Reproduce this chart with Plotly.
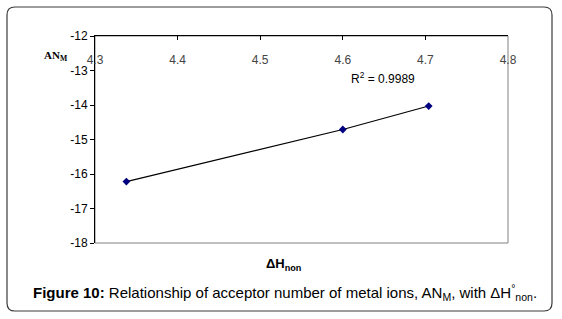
import plotly.graph_objects as go

# Data
dh_non = [4.338, 4.600, 4.704]
an_m = [-16.22, -14.71, -14.03]
x_ticks = [4.3, 4.4, 4.5, 4.6, 4.7, 4.8]
y_ticks = [-12, -13, -14, -15, -16, -17, -18]
r2_text = "R<sup>2</sup> = 0.9989"

W, H = 562, 319
L, R, T, B = 95, 54, 36, 76
pw, ph = W - L - R, H - T - B

def px2paper_x(px):
    return (px - L) / pw

def px2paper_y(py):
    return (H - B - py) / ph

fig = go.Figure()
fig.add_trace(go.Scatter(
    x=dh_non, y=an_m, mode="lines+markers",
    line=dict(color="black", width=1.2),
    marker=dict(symbol="diamond", size=6, color="#000080"),
    showlegend=False, cliponaxis=False,
))

# frame with rounded corners
x0, x1 = px2paper_x(7), px2paper_x(552)
y0, y1 = px2paper_y(311), px2paper_y(7)
rx, ry = 8 / pw, 8 / ph
path = (f"M {x0+rx},{y1} L {x1-rx},{y1} Q {x1},{y1} {x1},{y1-ry} "
        f"L {x1},{y0+ry} Q {x1},{y0} {x1-rx},{y0} L {x0+rx},{y0} "
        f"Q {x0},{y0} {x0},{y0+ry} L {x0},{y1-ry} Q {x0},{y1} {x0+rx},{y1} Z")
shapes = [
    dict(type="path", xref="paper", yref="paper", path=path,
         line=dict(color="#3a3a3a", width=1.2), layer="below"),
    dict(type="rect", xref="paper", yref="paper", x0=0, x1=1, y0=0, y1=1,
         line=dict(color="#808080", width=1), layer="below"),
]

font = "Liberation Sans, Arial, sans-serif"

def ann(text, px, py, size, family=font):
    return dict(text=text, x=px2paper_x(px), y=px2paper_y(py), xref="paper", yref="paper",
                xanchor="center", yanchor="middle", showarrow=False,
                font=dict(size=size, color="black", family=family))

annotations = [
    ann(r2_text, 383, 78, 12),
    ann("<b>AN<sub>M</sub></b>", 56, 56, 11, "Liberation Serif, Times New Roman, serif"),
    ann("<b>ΔH<sub>non</sub></b>", 283, 264, 13),
    ann("<b>Figure 10:</b> Relationship of acceptor number of metal ions, AN<sub>M</sub>, with ΔH<sup>°</sup><sub>non</sub>.",
        285, 292, 15),
]

fig.update_layout(
    width=W, height=H, template="none",
    margin=dict(l=L, r=R, t=T, b=B, autoexpand=False),
    paper_bgcolor="white", plot_bgcolor="white",
    shapes=shapes, annotations=annotations,
    font=dict(family=font, size=12, color="black"),
    xaxis=dict(range=[4.3, 4.8], side="top", tickvals=x_ticks,
               ticktext=[f"{v:.1f}" for v in x_ticks],
               ticks="inside", ticklen=4, tickcolor="black",
               ticklabelposition="inside", ticklabeloverflow="allow",
               ticklabelstandoff=15,
               showline=True, linecolor="black", linewidth=1,
               showgrid=False, zeroline=False, automargin=False),
    yaxis=dict(range=[-18, -12], tickvals=y_ticks,
               ticktext=[str(v) for v in y_ticks],
               ticks="outside", ticklen=4, tickcolor="black",
               showline=True, linecolor="black", linewidth=1,
               showgrid=False, zeroline=False, automargin=False),
)

fig.write_html("out.html", config={"displayModeBar": False},
               post_script="document.body.style.margin='0';document.body.style.overflow='hidden';")
